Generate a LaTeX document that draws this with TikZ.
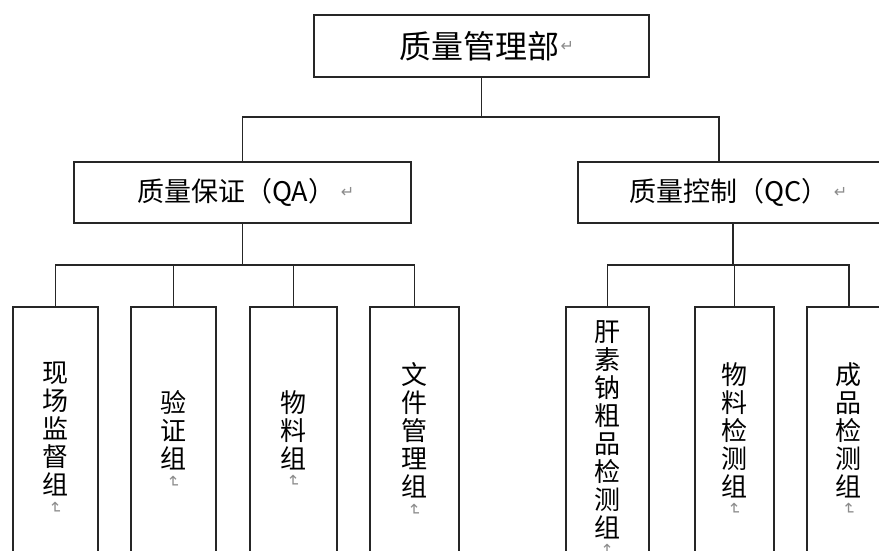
\documentclass[tikz,border=0pt]{standalone}
\usepackage{fontspec}
\setmainfont{Noto Sans CJK SC}
\newfontfamily\symfont{DejaVu Sans}
\begin{document}
\begin{tikzpicture}[x=1pt,y=-1pt]
\tikzset{
  conn/.style={draw=black!85, line width=1.5pt},
  box/.style={draw=black!85, line width=1.5pt, rectangle, inner sep=0pt, anchor=north west, minimum height=#1},
  box/.default=300pt,
  htext/.style={inner sep=0pt, anchor=west, text=black},
  vtext/.style={inner sep=0pt, anchor=north, align=center, font=\fontsize{26}{28}\selectfont, text=black},
  pmark/.style={inner sep=0pt, text=black!45, font=\symfont\fontsize{16}{16}\selectfont},
}
\useasboundingbox (0,0) rectangle (879,550);
\clip (0,0) rectangle (879,550);

% boxes
\node[box=62pt, minimum width=335pt] (top) at (313,14) {};
\node[box=61pt, minimum width=337pt] (qa) at (73,161) {};
\node[box=61pt, minimum width=310pt] (qc) at (577,161) {};
\node[box, minimum width=85pt] (b1) at (12,306) {};
\node[box, minimum width=85pt] (b2) at (130,306) {};
\node[box, minimum width=87pt] (b3) at (249,306) {};
\node[box, minimum width=89pt] (b4) at (369,306) {};
\node[box, minimum width=83pt] (b5) at (565,306) {};
\node[box, minimum width=79pt] (b6) at (694,306) {};
\node[box, minimum width=84pt] (b7) at (806,306) {};

% junction coordinates
\coordinate (j0) at (480,117);
\coordinate (qcin) at (719,161);
\coordinate (ja) at (0,265);

% connectors
\draw[conn] (top.south) -- (top.south |- j0);
\draw[conn] (qa.north) -- (qa.north |- j0) -- (qcin |- j0) -- (qcin);
\draw[conn] (qa.south) -- (qa.south |- ja);
\draw[conn] (b1.north) -- (b1.north |- ja) -- (b4.north |- ja) -- (b4.north);
\draw[conn] (b2.north) -- (b2.north |- ja);
\draw[conn] (b3.north) -- (b3.north |- ja);
\draw[conn] (qc.south) -- (qc.south |- ja);
\draw[conn] (b5.north) -- (b5.north |- ja) -- (b7.north |- ja) -- (b7.north);
\draw[conn] (b6.north) -- (b6.north |- ja);

% horizontal texts
\node[htext, font=\fontsize{32}{34}\selectfont] (ttop) at (399,46) {质量管理部};
\node[pmark, anchor=west] (ptop) at ([xshift=1pt]ttop.east) {↵};
\node[htext, font=\fontsize{27}{29}\selectfont] (tqa) at (137,192) {质量保证（QA）};
\node[pmark, anchor=west] (pqa) at ([xshift=5pt]tqa.east) {↵};
\node[htext, font=\fontsize{27}{29}\selectfont] (tqc) at (629,192) {质量控制（QC）};
\node[pmark, anchor=west] (pqc) at ([xshift=5pt]tqc.east) {↵};

% vertical texts
\node[vtext] (t1) at ([yshift=-56pt]b1.north) {现\\场\\监\\督\\组};
\node[vtext] (t2) at ([yshift=-84pt]b2.north) {验\\证\\组};
\node[vtext] (t3) at ([yshift=-84pt]b3.north) {物\\料\\组};
\node[vtext] (t4) at ([yshift=-56pt]b4.north) {文\\件\\管\\理\\组};
\node[vtext] (t5) at ([yshift=-14pt]b5.north) {肝\\素\\钠\\粗\\品\\检\\测\\组};
\node[vtext] (t6) at ([yshift=-56pt]b6.north) {物\\料\\检\\测\\组};
\node[vtext] (t7) at ([yshift=-56pt]b7.north) {成\\品\\检\\测\\组};

\foreach \t in {1,...,7}{
  \node[pmark, rotate=-90, anchor=west] (p\t) at ([yshift=-5pt]t\t.south) {↵};
}
\end{tikzpicture}
\end{document}
